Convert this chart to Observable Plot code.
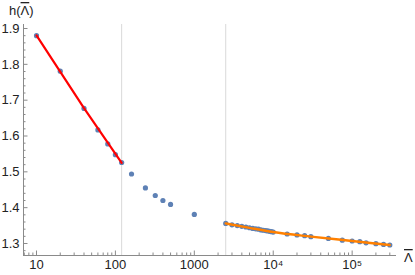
<!DOCTYPE html>
<html><head><meta charset="utf-8">
<script src="https://cdn.jsdelivr.net/npm/d3@7"></script>
<script src="https://cdn.jsdelivr.net/npm/@observablehq/plot@0.6"></script>
<style>
body{margin:0;background:#fff}
svg{font-family:"Liberation Sans",Arial,sans-serif}
</style>
</head><body><div id="chart"></div>
<script>
// Data points (Λ̄, h)
const lambdaVals = [10, 20, 40, 60, 80, 100, 120, 160, 240, 320, 400, 500, 1000,
  2500, 3000, 3500, 4000, 4500, 5000, 5500, 6000, 6500, 7000, 7500, 8000, 8500, 9000, 9500, 10000,
  15000, 20000, 25000, 30000, 50000, 75000, 100000, 125000, 150000, 200000, 250000, 300000];
const hVals = [1.880, 1.781, 1.677, 1.617, 1.578, 1.548, 1.526, 1.494, 1.455, 1.434, 1.420, 1.409, 1.381,
  1.356, 1.352, 1.350, 1.348, 1.346, 1.344, 1.342, 1.341, 1.340, 1.338, 1.337, 1.336, 1.335, 1.334, 1.333, 1.332,
  1.3265, 1.3238, 1.3218, 1.319, 1.3142, 1.3093, 1.307, 1.305, 1.302, 1.2994, 1.2975, 1.2958];

// Fit curves
const redFitX = [10, 40, 120];
const redFitY = [1.881, 1.678, 1.525];
const orangeFitX = [2500, 5000, 10000, 30000, 100000, 300000];
const orangeFitY = [1.356, 1.3437, 1.3321, 1.3193, 1.3070, 1.2958];

// Grid lines
const gridX = [120, 2500];

// Ticks
const xMajor = [10, 100, 1000, 10000, 100000];
const xLabels = ["10", "100", "1000", "10⁴", "10⁵"];
const yMajor = [1.3, 1.4, 1.5, 1.6, 1.7, 1.8, 1.9];
const yLabels = ["1.3", "1.4", "1.5", "1.6", "1.7", "1.8", "1.9"];

const xDomain = [6.845, 364800];
const yDomain = [1.2665, 1.9112];

const xMinor = [];
for (const d of [1, 10, 100, 1000, 10000, 100000]) for (let k = 2; k <= 9; k++) {
  const v = d * k; if (v > xDomain[0] && v < xDomain[1]) xMinor.push(v);
}
const yMinor = d3.range(128, 191, 2).map(v => v / 100).filter(v => Math.round(v * 100) % 10 !== 0);

const points = lambdaVals.map((x, i) => ({x, y: hVals[i]}));
const redFit = redFitX.map((x, i) => ({x, y: redFitY[i]}));
const orangeFit = orangeFitX.map((x, i) => ({x, y: orangeFitY[i]}));

const axisColor = "#8a8a8a";
const labelColor = "#222";
const blank = () => "";

const chart = Plot.plot({
  width: 415,
  height: 275,
  marginLeft: 23,
  marginRight: 19,
  marginTop: 24,
  marginBottom: 20,
  style: {fontFamily: "'Liberation Sans', Arial, sans-serif", fontSize: "13px", background: "#fff"},
  x: {type: "log", domain: xDomain},
  y: {domain: yDomain},
  marks: [
    Plot.ruleX(gridX, {stroke: "#d9d9d9", strokeWidth: 1}),
    // axis lines
    Plot.ruleY([yDomain[0]], {stroke: axisColor, strokeWidth: 1}),
    Plot.ruleX([xDomain[0]], {stroke: axisColor, strokeWidth: 1}),
    // x ticks (inward)
    Plot.axisX({ticks: xMajor, tickSize: -4.5, tickFormat: blank, stroke: axisColor, label: null}),
    Plot.axisX({ticks: xMinor, tickSize: -2.5, tickFormat: blank, stroke: axisColor, label: null}),
    Plot.axisX({ticks: xMajor, tickSize: 0, tickPadding: 4, tickFormat: d => xLabels[xMajor.indexOf(d)], fill: labelColor, label: null}),
    // y ticks (inward)
    Plot.axisY({ticks: yMajor, tickSize: -4.5, tickFormat: blank, stroke: axisColor, label: null}),
    Plot.axisY({ticks: yMinor, tickSize: -2.5, tickFormat: blank, stroke: axisColor, label: null}),
    Plot.axisY({ticks: yMajor, tickSize: 0, tickPadding: 4, tickFormat: d => yLabels[yMajor.indexOf(d)], fill: labelColor, label: null}),
    // data
    Plot.dot(points, {x: "x", y: "y", r: 2.6, fill: "#5E81B5", stroke: "none"}),
    Plot.line(redFit, {x: "x", y: "y", stroke: "#FF0000", strokeWidth: 2.2}),
    Plot.line(orangeFit, {x: "x", y: "y", stroke: "#FF8000", strokeWidth: 2.4, curve: "monotone-x"})
  ]
});

const svg = d3.select(chart);
// y-axis label h(Λ̄)
const yl = svg.append("text").attr("x", 9).attr("y", 15).attr("text-anchor", "start")
  .attr("fill", labelColor).attr("font-size", 13);
yl.append("tspan").text("h(");
yl.append("tspan").attr("text-decoration", "overline").style("text-decoration", "overline").text("Λ");
yl.append("tspan").text(")");
// x-axis label Λ̄
svg.append("text").attr("x", 404).attr("y", 262).attr("text-anchor", "start")
  .attr("fill", labelColor).attr("font-size", 13)
  .attr("text-decoration", "overline").style("text-decoration", "overline")
  .text("Λ");

document.getElementById("chart").appendChild(chart);
</script>
</body></html>
